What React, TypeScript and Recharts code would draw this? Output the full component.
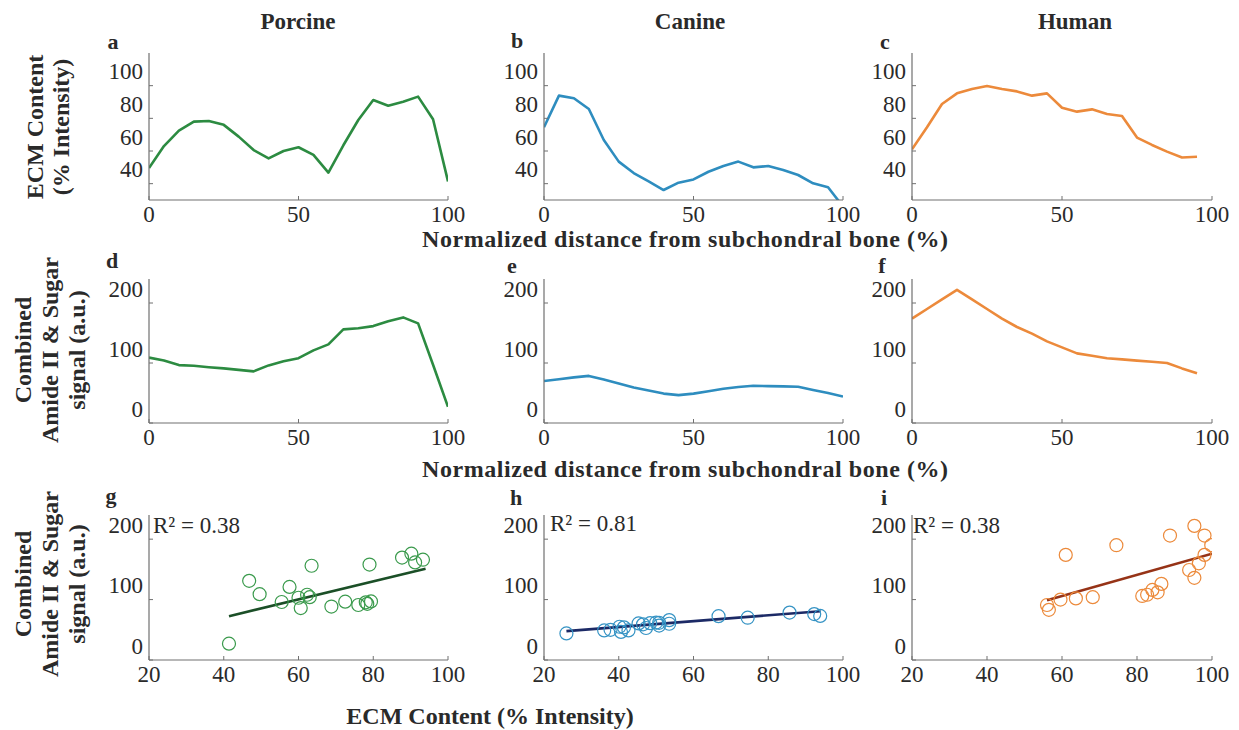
import { ComposedChart, Line, Scatter, XAxis, YAxis } from 'recharts';

// distance from subchondral bone (%)
const distance = [0, 5, 10, 15, 20, 25, 30, 35, 40, 45, 50, 55, 60, 65, 70, 75, 80, 85, 90, 95, 100];
const distanceHuman = [0, 5, 10, 15, 20, 25, 30, 35, 40, 45, 50, 55, 60, 65, 70, 75, 80, 85, 90, 95];

// ECM content (% intensity)
const porcineEcm = [49.6, 63, 72.5, 78, 78.4, 76, 68.8, 60.6, 55.5, 60, 62.3, 57.6, 46.8, 63.5, 79, 91.2, 87.7, 90.2, 93.3, 79.4, 41.4];
const canineEcm = [74.5, 93.9, 92.3, 85.7, 66.7, 53.5, 46.5, 41.4, 36.1, 40.6, 42.6, 47.3, 50.8, 53.5, 50, 50.8, 48.4, 45.3, 40.2, 37.8, 26];
const humanEcm = [61, 74.5, 88.8, 95.3, 98, 99.8, 98, 96.5, 93.9, 95.3, 86.5, 84.1, 85.5, 82.7, 81.4, 68.2, 63.7, 59.6, 56, 56.5];

// combined amide II & sugar signal (a.u.)
const porcineSignal = [109, 104, 96.5, 95.5, 93, 91, 88.5, 86, 96, 103, 108, 121, 131, 156, 158, 161.5, 169.5, 176, 166, 97, 27];
const canineSignal = [70, 73, 76, 78.5, 72.5, 66, 59, 54, 49, 46.5, 49, 53, 57, 60, 62, 61.5, 61, 60.5, 55, 50, 44];
const humanSignal = [174, 190, 206, 222, 206, 190, 174, 160, 149, 136, 126, 116, 112, 108, 106, 104, 102, 100, 91, 83];

// regression line end points [ecm, signal]
const porcineFit = [[41.4, 72.5], [94, 151]];
const canineFit = [[26, 47.8], [94, 80.8]];
const humanFit = [[56, 99], [100, 176]];

const ecmTicks = [40, 60, 80, 100];
const signalTicks = [0, 100, 200];
const distTicks = [0, 50, 100];
const scatterXTicks = [20, 40, 60, 80, 100];

const AXIS = '#707070';
const TEXT = '#2a2a2a';
const SERIF = '"Liberation Serif", "Times New Roman", serif';
const GREEN = '#2c8b41';
const BLUE = '#2e8dbf';
const ORANGE = '#ec8a3b';

const zip = (xs: number[], ys: number[]) => xs.map((x, i) => ({ x, y: ys[i] }));
const fit = (pts: number[][]) => pts.map(([x, y]) => ({ x, y }));

const YW = 60;
const MT = 20;
const MR = 30;
const XH = 30;

const tickText = { fontFamily: SERIF, fontSize: 23, fill: TEXT };

const xTick = (axisY: number) => (p: any) => (
  <g>
    <line x1={p.x} x2={p.x} y1={axisY} y2={axisY - 4} stroke={AXIS} />
    <text x={p.x} y={axisY + 14} textAnchor="middle" dominantBaseline="central" style={tickText}>
      {p.payload.value}
    </text>
  </g>
);

const yTick = (axisX: number) => (p: any) => (
  <g>
    <line x1={axisX} x2={axisX + 4} y1={p.y} y2={p.y} stroke={AXIS} />
    <text x={axisX - 6} y={p.y - 14} textAnchor="end" dominantBaseline="central" style={tickText}>
      {p.payload.value}
    </text>
  </g>
);

function Panel({ x, y, w, h, xDomain, xTicks, yDomain, yTicks, children }: any) {
  return (
    <div style={{ position: 'absolute', left: x - YW, top: y - MT }}>
      <ComposedChart
        width={YW + w + MR}
        height={MT + h + XH}
        margin={{ top: MT, right: MR, left: 0, bottom: 0 }}
        style={{ overflow: 'visible' }}
      >
        <XAxis
          type="number"
          dataKey="x"
          domain={xDomain}
          ticks={xTicks}
          interval={0}
          allowDataOverflow
          height={XH}
          axisLine={{ stroke: AXIS, strokeWidth: 1.2 }}
          tickLine={false}
          tick={xTick(MT + h)}
        />
        <YAxis
          type="number"
          dataKey="y"
          domain={yDomain}
          ticks={yTicks}
          interval={0}
          allowDataOverflow
          width={YW}
          axisLine={{ stroke: AXIS, strokeWidth: 1.2 }}
          tickLine={false}
          tick={yTick(YW)}
        />
        {children}
      </ComposedChart>
    </div>
  );
}

const dot = (color: string) => (p: any) => (
  <circle cx={p.cx} cy={p.cy} r={6.5} fill="none" stroke={color} strokeWidth={1.2} />
);

const cols = [149, 544, 912];
const colW = [299, 299, 300];
const rowTop = [53, 279, 515];
const rowH = [147, 144, 145];

const Label = ({ x, y, children, size = 24, anchor = 'middle', bold = true, len }: any) => (
  <text
    x={x}
    y={y}
    textAnchor={anchor}
    dominantBaseline="central"
    style={{ fontFamily: SERIF, fontSize: size, fontWeight: bold ? 'bold' : 'normal', fill: TEXT }}
    textLength={len}
    lengthAdjust={len ? 'spacing' : undefined}
  >
    {children}
  </text>
);

const VLabel = ({ x, y, children }: any) => (
  <text
    transform={`translate(${x},${y}) rotate(-90)`}
    textAnchor="middle"
    dominantBaseline="central"
    style={{ fontFamily: SERIF, fontSize: 24, fontWeight: 'bold', fill: TEXT }}
  >
    {children}
  </text>
);

export default function App() {
  const profiles = [
    { ecm: zip(distance, porcineEcm), sig: zip(distance, porcineSignal), color: GREEN },
    { ecm: zip(distance, canineEcm), sig: zip(distance, canineSignal), color: BLUE },
    { ecm: zip(distanceHuman, humanEcm), sig: zip(distanceHuman, humanSignal), color: ORANGE },
  ];
  const scatters = [
    { pts: zip(porcineEcm, porcineSignal), fit: fit(porcineFit), color: '#3a9a4c', fitColor: '#1b4f27' },
    { pts: zip(canineEcm, canineSignal), fit: fit(canineFit), color: '#3593c4', fitColor: '#1c2a66' },
    { pts: zip(humanEcm, humanSignal), fit: fit(humanFit), color: '#ec8a3b', fitColor: '#963317' },
  ];

  return (
    <div style={{ position: 'absolute', left: 0, top: 0, width: 1239, height: 730, background: '#fff', overflow: 'hidden' }}>
      {profiles.map((p, i) => (
        <Panel key={'a' + i} x={cols[i]} y={rowTop[0]} w={colW[i]} h={rowH[0]} xDomain={[0, 100]} xTicks={distTicks} yDomain={[30, 120]} yTicks={ecmTicks}>
          <Line data={p.ecm} dataKey="y" stroke={p.color} strokeWidth={2.6} dot={false} isAnimationActive={false} strokeLinejoin="round" />
        </Panel>
      ))}
      {profiles.map((p, i) => (
        <Panel key={'d' + i} x={cols[i]} y={rowTop[1]} w={colW[i]} h={rowH[1]} xDomain={[0, 100]} xTicks={distTicks} yDomain={[0, 240]} yTicks={signalTicks}>
          <Line data={p.sig} dataKey="y" stroke={p.color} strokeWidth={2.6} dot={false} isAnimationActive={false} strokeLinejoin="round" />
        </Panel>
      ))}
      {scatters.map((s, i) => (
        <Panel key={'g' + i} x={cols[i]} y={rowTop[2]} w={colW[i]} h={rowH[2]} xDomain={[20, 100]} xTicks={scatterXTicks} yDomain={[0, 240]} yTicks={signalTicks}>
          <Scatter data={s.pts} dataKey="y" shape={dot(s.color)} isAnimationActive={false} />
          <Line data={s.fit} dataKey="y" stroke={s.fitColor} strokeWidth={2.6} dot={false} isAnimationActive={false} />
        </Panel>
      ))}

      <svg width={1239} height={730} style={{ position: 'absolute', left: 0, top: 0, pointerEvents: 'none' }}>
        <Label x={298} y={21} size={23}>Porcine</Label>
        <Label x={690} y={21} size={23}>Canine</Label>
        <Label x={1075} y={21} size={23}>Human</Label>

        <Label x={113} y={41} size={22}>a</Label>
        <Label x={517} y={40} size={22}>b</Label>
        <Label x={885} y={41} size={22}>c</Label>
        <Label x={112} y={260} size={22}>d</Label>
        <Label x={512} y={265} size={22}>e</Label>
        <Label x={882} y={265} size={22}>f</Label>
        <Label x={111} y={495} size={22}>g</Label>
        <Label x={516} y={497} size={22}>h</Label>
        <Label x={884} y={497} size={22}>i</Label>

        <VLabel x={35} y={127}>ECM Content</VLabel>
        <VLabel x={61} y={127}>(% Intensity)</VLabel>
        <VLabel x={23} y={350}>Combined</VLabel>
        <VLabel x={50} y={350}>Amide II &amp; Sugar</VLabel>
        <VLabel x={77} y={350}>signal (a.u.)</VLabel>
        <VLabel x={23} y={584}>Combined</VLabel>
        <VLabel x={50} y={584}>Amide II &amp; Sugar</VLabel>
        <VLabel x={77} y={584}>signal (a.u.)</VLabel>

        <Label x={685} y={239} len={526}>Normalized distance from subchondral bone (%)</Label>
        <Label x={685} y={469} len={526}>Normalized distance from subchondral bone (%)</Label>
        <Label x={490} y={716}>ECM Content (% Intensity)</Label>

        <Label x={153} y={525} size={23} anchor="start" bold={false}>R² = 0.38</Label>
        <Label x={550} y={523} size={23} anchor="start" bold={false}>R² = 0.81</Label>
        <Label x={913} y={525} size={23} anchor="start" bold={false}>R² = 0.38</Label>
      </svg>
    </div>
  );
}
